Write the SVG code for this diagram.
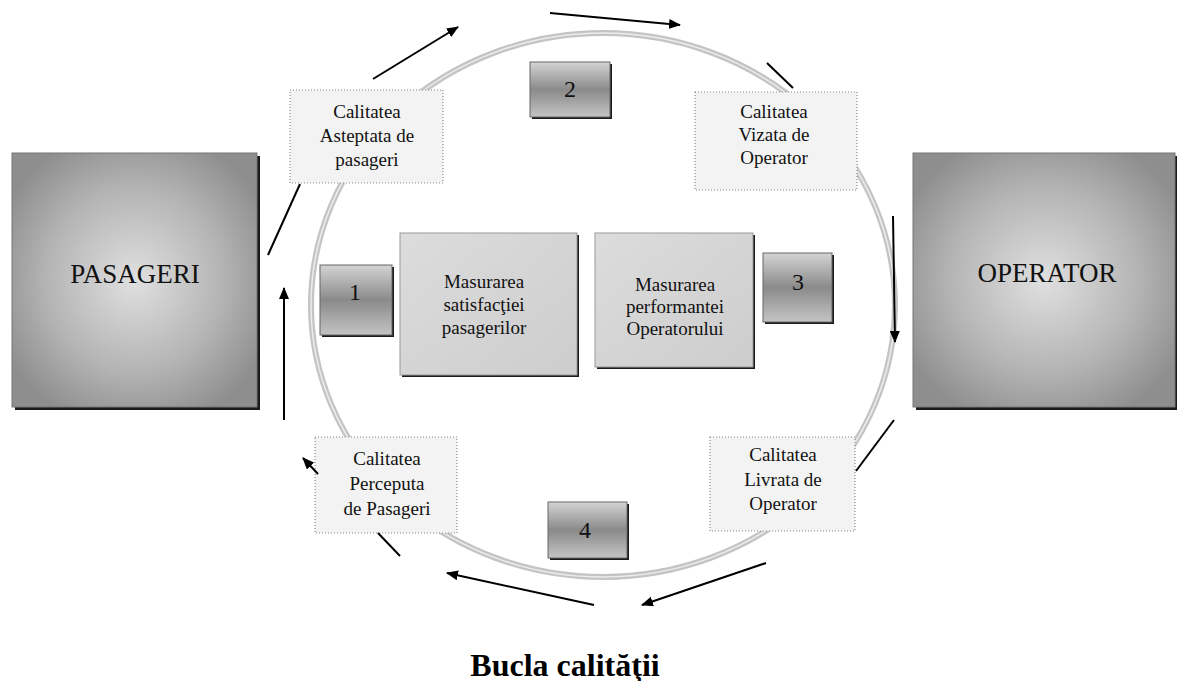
<svg xmlns="http://www.w3.org/2000/svg" width="1177" height="681" viewBox="0 0 1177 681">
  <defs>
    <radialGradient id="bigGrad" cx="50%" cy="50%" r="60%">
      <stop offset="0" stop-color="#e0e0e0"/>
      <stop offset="0.6" stop-color="#b4b4b4"/>
      <stop offset="1" stop-color="#8e8e8e"/>
    </radialGradient>
    <linearGradient id="badgeGrad" x1="0" y1="0" x2="0" y2="1">
      <stop offset="0" stop-color="#d4d4d4"/>
      <stop offset="0.5" stop-color="#8a8a8a"/>
      <stop offset="1" stop-color="#c4c4c4"/>
    </linearGradient>
    <linearGradient id="midGrad" x1="0" y1="0" x2="1" y2="1">
      <stop offset="0" stop-color="#dcdcdc"/>
      <stop offset="1" stop-color="#cdcdcd"/>
    </linearGradient>
    <marker id="ah" viewBox="0 0 12 10" refX="11" refY="5" markerWidth="12" markerHeight="10" markerUnits="userSpaceOnUse" orient="auto">
      <path d="M0,0 L12,5 L0,10 Z" fill="#000"/>
    </marker>
  </defs>
  <style>
    text { font-family: "Liberation Serif", "Times New Roman", serif; fill: #111; text-anchor: middle; }
    .big { font-size: 27px; }
    .lbl { font-size: 19px; }
    .mid { font-size: 19px; }
    .num { font-size: 24px; }
    .title { font-size: 32px; font-weight: bold; fill: #000; }
    .outer { fill: #f3f3f3; stroke: #8a8a8a; stroke-width: 1.2; stroke-dasharray: 1 2; }
    .shadow { fill: #1a1a1a; }
    .bigbox { fill: url(#bigGrad); stroke: #777; stroke-width: 1; }
    .midbox { fill: url(#midGrad); stroke: #999; stroke-width: 1; }
    .badge { fill: url(#badgeGrad); stroke: #666; stroke-width: 1; }
    .conn line { stroke: #000; stroke-width: 2; fill: none; }
    .arr { marker-end: url(#ah); }
  </style>
  <rect width="1177" height="681" fill="#ffffff"/>

  <g id="ring">
    <ellipse cx="603" cy="305" rx="292" ry="272" fill="none" stroke="#c4c4c4" stroke-width="6"/>
    <ellipse cx="603" cy="305" rx="292" ry="272" fill="none" stroke="#ececec" stroke-width="1.5"/>
  </g>

  <g id="pasageri">
    <rect class="shadow" x="15" y="156" width="245" height="254"/>
    <rect class="bigbox" x="12" y="153" width="245" height="254"/>
    <text class="big" x="135" y="283">PASAGERI</text>
  </g>

  <g id="operator">
    <rect class="shadow" x="916" y="156" width="261" height="254"/>
    <rect class="bigbox" x="913" y="153" width="262" height="254"/>
    <text class="big" x="1047" y="282">OPERATOR</text>
  </g>

  <g id="asteptata">
    <rect class="outer" x="290" y="90" width="153" height="93"/>
    <text class="lbl" x="367" y="118">Calitatea</text>
    <text class="lbl" x="367" y="142">Asteptata de</text>
    <text class="lbl" x="367" y="166">pasageri</text>
  </g>

  <g id="vizata">
    <rect class="outer" x="695" y="92" width="162" height="98"/>
    <text class="lbl" x="774" y="118">Calitatea</text>
    <text class="lbl" x="774" y="141">Vizata de</text>
    <text class="lbl" x="774" y="164">Operator</text>
  </g>

  <g id="perceputa">
    <rect class="outer" x="315" y="437" width="142" height="96"/>
    <text class="lbl" x="387" y="465">Calitatea</text>
    <text class="lbl" x="387" y="490">Perceputa</text>
    <text class="lbl" x="387" y="515">de Pasageri</text>
  </g>

  <g id="livrata">
    <rect class="outer" x="710" y="437" width="145" height="94"/>
    <text class="lbl" x="783" y="461">Calitatea</text>
    <text class="lbl" x="783" y="486">Livrata de</text>
    <text class="lbl" x="783" y="510">Operator</text>
  </g>

  <g id="satisfactie">
    <rect class="shadow" x="402" y="235" width="177" height="142"/>
    <rect class="midbox" x="400" y="233" width="177" height="142"/>
    <text class="mid" x="484" y="288">Masurarea</text>
    <text class="mid" x="484" y="311">satisfacţiei</text>
    <text class="mid" x="484" y="334">pasagerilor</text>
  </g>

  <g id="performanta">
    <rect class="shadow" x="597" y="235" width="158" height="134"/>
    <rect class="midbox" x="595" y="233" width="158" height="134"/>
    <text class="mid" x="675" y="291">Masurarea</text>
    <text class="mid" x="675" y="313">performantei</text>
    <text class="mid" x="675" y="335">Operatorului</text>
  </g>

  <g id="b1">
    <rect class="shadow" x="322" y="267" width="72" height="70"/>
    <rect class="badge" x="320" y="265" width="72" height="70"/>
    <text class="num" x="355" y="300">1</text>
  </g>
  <g id="b2">
    <rect class="shadow" x="532" y="64" width="80" height="55"/>
    <rect class="badge" x="530" y="62" width="80" height="55"/>
    <text class="num" x="570" y="97">2</text>
  </g>
  <g id="b3">
    <rect class="shadow" x="765" y="255" width="69" height="69"/>
    <rect class="badge" x="763" y="253" width="69" height="69"/>
    <text class="num" x="798" y="290">3</text>
  </g>
  <g id="b4">
    <rect class="shadow" x="550" y="504" width="79" height="56"/>
    <rect class="badge" x="548" y="502" width="79" height="56"/>
    <text class="num" x="585" y="538">4</text>
  </g>

  <g id="connectors" class="conn">
    <line x1="268" y1="255" x2="300" y2="184"/>
    <line class="arr" x1="284" y1="420" x2="284" y2="288"/>
    <line class="arr" x1="373" y1="79" x2="458" y2="27"/>
    <line class="arr" x1="550" y1="13" x2="680" y2="25"/>
    <line x1="767" y1="63" x2="793" y2="88"/>
    <line class="arr" x1="893" y1="216" x2="895" y2="342"/>
    <line x1="894" y1="420" x2="856" y2="471"/>
    <line class="arr" x1="766" y1="563" x2="642" y2="605"/>
    <line class="arr" x1="594" y1="605" x2="447" y2="573"/>
    <line x1="378" y1="533" x2="400" y2="556"/>
    <line class="arr" x1="318" y1="474" x2="303" y2="458"/>
  </g>

  <g id="caption">
    <text class="title" x="565" y="676">Bucla calităţii</text>
  </g>
</svg>
